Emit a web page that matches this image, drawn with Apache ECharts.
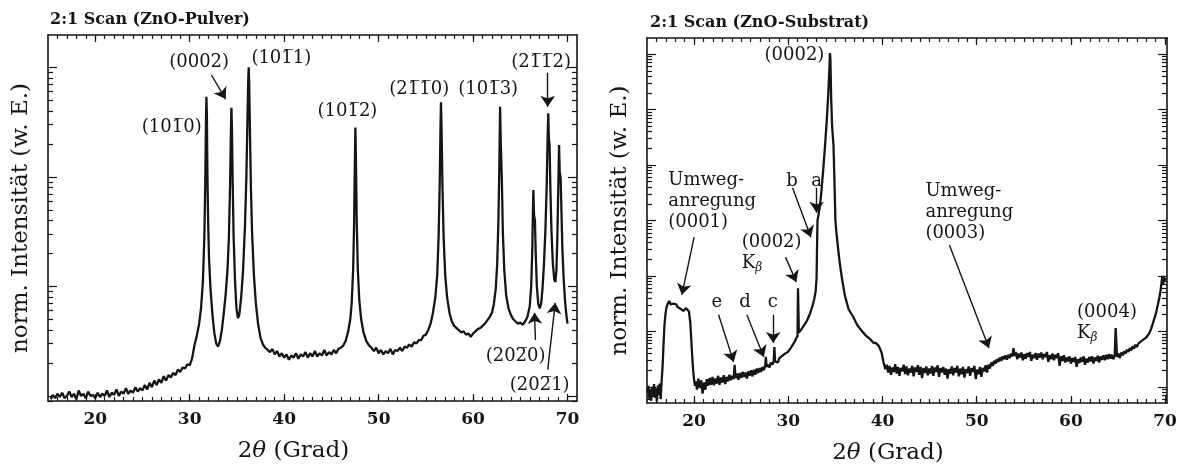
<!DOCTYPE html>
<html>
<head>
<meta charset="utf-8">
<title>2:1 Scan ZnO</title>
<script src="https://cdn.jsdelivr.net/npm/echarts@6/dist/echarts.min.js"></script>
<style>
  html, body { margin: 0; padding: 0; background: #fff; }
  #chart { width: 1181px; height: 472px; }
</style>
</head>
<body>
<div id="chart"></div>
<script>
  // Messwerte: [2theta (Grad), log10 der norm. Intensitaet]
  var pulverScan = [
    [15.3,-0.03],[15.5,0.01],[15.75,-0.02],[16.0,0.02],[16.25,-0.01],[16.5,0.03],[16.75,-0.02],[17.0,0.0],
    [17.25,0.04],[17.5,-0.01],[17.75,0.02],[18.0,-0.03],[18.25,0.05],[18.5,0.0],[18.75,0.02],[19.0,-0.02],
    [19.25,0.04],[19.5,0.0],[19.75,0.01],[20.0,-0.02],[20.25,0.03],[20.5,-0.01],[20.75,0.02],[21.0,0.0],
    [21.25,0.05],[21.5,-0.01],[21.75,0.03],[22.0,0.01],[22.25,0.06],[22.5,0.0],[22.75,0.04],[23.0,0.02],
    [23.25,0.07],[23.5,0.02],[23.75,0.05],[24.0,0.03],[24.25,0.08],[24.5,0.04],[24.75,0.07],[25.0,0.05],
    [25.25,0.10],[25.5,0.06],[25.75,0.12],[26.0,0.08],[26.25,0.14],[26.5,0.10],[26.75,0.15],[27.0,0.12],
    [27.25,0.18],[27.5,0.14],[27.75,0.19],[28.0,0.17],[28.25,0.21],[28.5,0.19],[28.75,0.24],[29.0,0.22],
    [29.25,0.26],[29.5,0.25],[29.75,0.29],[30.0,0.28],[30.25,0.34],[30.5,0.46],[30.75,0.55],[31.0,0.66],
    [31.2,0.80],[31.4,1.05],[31.55,1.45],[31.65,1.95],[31.72,2.5],[31.77,2.73],[31.82,2.55],[31.88,2.0],
    [31.95,1.6],[32.05,1.25],[32.2,0.98],[32.4,0.75],[32.6,0.58],[32.8,0.48],[33.0,0.45],[33.2,0.50],
    [33.4,0.60],[33.6,0.75],[33.8,0.92],[34.0,1.15],[34.15,1.45],[34.28,1.95],[34.37,2.45],[34.42,2.63],
    [34.47,2.45],[34.55,1.95],[34.65,1.45],[34.8,1.05],[34.95,0.80],[35.1,0.71],[35.25,0.74],[35.45,0.90],
    [35.65,1.15],[35.85,1.55],[36.0,2.0],[36.12,2.55],[36.2,2.9],[36.25,3.0],[36.3,2.85],[36.38,2.4],
    [36.48,1.9],[36.6,1.5],[36.8,1.1],[37.0,0.85],[37.25,0.65],[37.5,0.53],[37.75,0.47],[38.0,0.44],
    [38.25,0.42],[38.5,0.40],[38.75,0.43],[39.0,0.38],[39.25,0.41],[39.5,0.36],[39.75,0.39],[40.0,0.35],
    [40.25,0.38],[40.5,0.33],[40.75,0.37],[41.0,0.35],[41.25,0.39],[41.5,0.34],[41.75,0.38],[42.0,0.36],
    [42.25,0.40],[42.5,0.35],[42.75,0.39],[43.0,0.36],[43.25,0.41],[43.5,0.36],[43.75,0.39],[44.0,0.37],
    [44.25,0.42],[44.5,0.37],[44.75,0.40],[45.0,0.38],[45.25,0.42],[45.5,0.39],[45.75,0.43],[46.0,0.44],
    [46.25,0.46],[46.5,0.50],[46.75,0.58],[47.0,0.70],[47.15,0.85],[47.3,1.15],[47.4,1.55],[47.48,2.1],
    [47.54,2.45],[47.6,2.15],[47.68,1.6],[47.8,1.15],[47.95,0.88],[48.15,0.70],[48.4,0.58],[48.7,0.50],
    [49.0,0.46],[49.25,0.44],[49.5,0.41],[49.75,0.44],[50.0,0.39],[50.25,0.42],[50.5,0.38],[50.75,0.41],
    [51.0,0.39],[51.25,0.43],[51.5,0.38],[51.75,0.42],[52.0,0.41],[52.25,0.44],[52.5,0.41],[52.75,0.45],
    [53.0,0.44],[53.25,0.47],[53.5,0.45],[53.75,0.49],[54.0,0.48],[54.25,0.51],[54.5,0.51],[54.75,0.55],
    [55.0,0.56],[55.25,0.60],[55.5,0.66],[55.75,0.76],[56.0,0.90],[56.2,1.1],[56.35,1.45],[56.47,1.95],
    [56.55,2.45],[56.6,2.68],[56.66,2.45],[56.75,1.95],[56.88,1.45],[57.05,1.1],[57.25,0.90],[57.5,0.76],
    [57.75,0.68],[58.0,0.64],[58.25,0.62],[58.5,0.60],[58.75,0.58],[59.0,0.59],[59.25,0.56],[59.5,0.57],
    [59.75,0.54],[60.0,0.57],[60.25,0.59],[60.5,0.61],[60.75,0.62],[61.0,0.64],[61.25,0.66],[61.5,0.69],
    [61.75,0.72],[62.0,0.76],[62.2,0.84],[62.4,0.98],[62.55,1.2],[62.68,1.6],[62.78,2.1],[62.86,2.64],
    [62.92,2.35],[62.98,2.36],[63.05,1.95],[63.15,1.5],[63.3,1.15],[63.5,0.92],[63.75,0.80],[64.0,0.74],
    [64.25,0.70],[64.5,0.68],[64.75,0.66],[65.0,0.67],[65.25,0.65],[65.5,0.68],[65.75,0.72],[66.0,0.82],
    [66.15,1.0],[66.27,1.35],[66.35,1.75],[66.38,1.88],[66.45,1.65],[66.55,1.6],[66.63,1.3],[66.75,1.0],
    [66.9,0.84],[67.05,0.80],[67.2,0.84],[67.35,0.98],[67.5,1.2],[67.65,1.5],[67.8,1.95],[67.9,2.4],
    [67.96,2.58],[68.02,2.35],[68.1,2.29],[68.18,1.9],[68.3,1.5],[68.45,1.2],[68.6,1.06],[68.72,1.04],
    [68.82,1.15],[68.92,1.45],[69.02,1.9],[69.1,2.29],[69.17,2.05],[69.27,1.99],[69.35,1.7],[69.45,1.35],
    [69.6,1.05],[69.75,0.85],[69.9,0.72],[70.0,0.66]
  ];

  var substratScan = [
    [15.05,-0.1],[15.15,0.02],[15.25,-0.22],[15.35,-0.05],[15.45,-0.25],[15.55,0.0],[15.65,-0.18],[15.75,0.05],
    [15.85,-0.2],[15.95,-0.02],[16.05,-0.26],[16.15,0.03],[16.25,-0.15],[16.35,0.06],[16.45,-0.22],[16.55,0.1],
    [16.65,0.35],[16.75,0.75],[16.85,1.1],[16.95,1.3],[17.05,1.42],[17.2,1.5],[17.35,1.55],[17.5,1.49],
    [17.65,1.46],[17.8,1.50],[17.95,1.47],[18.1,1.49],[18.25,1.44],[18.4,1.45],[18.55,1.41],[18.7,1.40],
    [18.85,1.37],[19.0,1.39],[19.15,1.42],[19.3,1.44],[19.45,1.36],[19.6,1.15],[19.7,0.85],[19.8,0.55],
    [19.9,0.3],[20.0,0.12],[20.1,0.02],[20.2,0.10],[20.3,-0.05],[20.45,0.15],[20.6,-0.02],[20.75,0.12],
    [20.9,-0.12],[21.05,0.08],[21.2,-0.05],[21.35,0.14],[21.5,0.02],[21.65,0.16],[21.8,0.04],[21.95,0.18],
    [22.1,0.03],[22.25,0.15],[22.4,0.06],[22.55,0.20],[22.7,0.04],[22.85,0.17],[23.0,0.08],[23.15,0.21],
    [23.3,0.05],[23.45,0.18],[23.6,0.10],[23.75,0.22],[23.9,0.12],[24.05,0.20],[24.2,0.14],[24.3,0.40],
    [24.4,0.16],[24.55,0.24],[24.7,0.13],[24.85,0.25],[25.0,0.16],[25.15,0.27],[25.3,0.18],[25.45,0.26],
    [25.6,0.15],[25.75,0.28],[25.9,0.20],[26.05,0.30],[26.2,0.19],[26.35,0.31],[26.5,0.22],[26.65,0.33],
    [26.8,0.25],[26.95,0.34],[27.1,0.27],[27.25,0.36],[27.4,0.30],[27.55,0.38],[27.62,0.54],[27.7,0.36],
    [27.85,0.40],[28.0,0.35],[28.15,0.44],[28.3,0.40],[28.45,0.46],[28.52,0.72],[28.6,0.46],[28.75,0.48],
    [28.9,0.44],[29.05,0.52],[29.2,0.49],[29.35,0.56],[29.5,0.53],[29.65,0.60],[29.8,0.58],[29.95,0.63],
    [30.1,0.64],[30.25,0.70],[30.4,0.72],[30.55,0.78],[30.7,0.82],[30.85,0.88],[30.98,0.92],[31.03,1.78],
    [31.08,1.78],[31.12,0.98],[31.25,1.0],[31.4,1.04],[31.55,1.08],[31.7,1.12],[31.85,1.16],[32.0,1.2],
    [32.15,1.26],[32.3,1.32],[32.45,1.40],[32.6,1.48],[32.75,1.58],[32.9,1.72],[33.0,1.95],[33.05,2.5],
    [33.1,3.0],[33.2,3.1],[33.35,3.25],[33.5,3.5],[33.7,3.9],[33.9,4.35],[34.1,4.85],[34.25,5.3],
    [34.35,5.7],[34.42,6.02],[34.47,5.9],[34.55,5.2],[34.65,4.7],[34.8,4.35],[34.9,3.7],[35.0,3.0],
    [35.1,2.8],[35.25,2.55],[35.45,2.25],[35.7,1.95],[36.0,1.65],[36.4,1.4],[36.9,1.26],[37.3,1.12],
    [37.7,1.03],[38.2,0.93],[38.7,0.86],[39.0,0.80],[39.3,0.79],[39.6,0.74],[39.9,0.62],[40.1,0.45],
    [40.3,0.32],[40.45,0.40],[40.6,0.26],[40.75,0.38],[40.9,0.22],[41.05,0.35],[41.2,0.27],[41.35,0.41],
    [41.5,0.24],[41.65,0.36],[41.8,0.20],[41.95,0.34],[42.1,0.28],[42.25,0.40],[42.4,0.23],[42.55,0.37],
    [42.7,0.21],[42.85,0.33],[43.0,0.26],[43.15,0.38],[43.3,0.19],[43.45,0.35],[43.6,0.27],[43.75,0.39],
    [43.9,0.22],[44.05,0.36],[44.2,0.16],[44.35,0.34],[44.5,0.25],[44.65,0.37],[44.8,0.21],[44.95,0.33],
    [45.1,0.24],[45.25,0.38],[45.4,0.20],[45.55,0.35],[45.7,0.27],[45.85,0.39],[46.0,0.18],[46.15,0.34],
    [46.3,0.26],[46.45,0.36],[46.6,0.22],[46.75,0.33],[46.9,0.15],[47.05,0.32],[47.2,0.24],[47.35,0.37],
    [47.5,0.21],[47.65,0.34],[47.8,0.26],[47.95,0.38],[48.1,0.19],[48.25,0.33],[48.4,0.23],[48.55,0.36],
    [48.7,0.17],[48.85,0.32],[49.0,0.25],[49.15,0.37],[49.3,0.20],[49.45,0.34],[49.6,0.27],[49.75,0.38],
    [49.9,0.14],[50.05,0.31],[50.2,0.23],[50.35,0.36],[50.5,0.18],[50.65,0.34],[50.8,0.28],[50.95,0.39],
    [51.1,0.26],[51.25,0.40],[51.4,0.33],[51.55,0.44],[51.7,0.38],[51.85,0.47],[52.0,0.42],[52.15,0.50],
    [52.3,0.45],[52.45,0.53],[52.6,0.47],[52.75,0.55],[52.9,0.50],[53.05,0.57],[53.2,0.49],[53.35,0.58],
    [53.5,0.52],[53.65,0.60],[53.8,0.55],[53.9,0.70],[54.0,0.56],[54.15,0.63],[54.3,0.50],[54.45,0.60],
    [54.6,0.53],[54.75,0.62],[54.9,0.48],[55.05,0.59],[55.2,0.51],[55.35,0.61],[55.5,0.54],[55.65,0.63],
    [55.8,0.47],[55.95,0.58],[56.1,0.52],[56.25,0.61],[56.4,0.49],[56.55,0.60],[56.7,0.53],[56.85,0.62],
    [57.0,0.50],[57.15,0.59],[57.3,0.54],[57.45,0.63],[57.6,0.45],[57.75,0.57],[57.9,0.50],[58.05,0.60],
    [58.2,0.48],[58.35,0.58],[58.5,0.52],[58.65,0.61],[58.8,0.38],[58.95,0.55],[59.1,0.47],[59.25,0.57],
    [59.4,0.44],[59.55,0.53],[59.7,0.46],[59.85,0.55],[60.0,0.42],[60.15,0.52],[60.3,0.45],[60.45,0.54],
    [60.6,0.36],[60.75,0.50],[60.9,0.43],[61.05,0.53],[61.2,0.45],[61.35,0.55],[61.5,0.40],[61.65,0.51],
    [61.8,0.44],[61.95,0.54],[62.1,0.46],[62.25,0.55],[62.4,0.42],[62.55,0.53],[62.7,0.47],[62.85,0.56],
    [63.0,0.44],[63.15,0.55],[63.3,0.49],[63.45,0.57],[63.6,0.48],[63.75,0.58],[63.9,0.50],[64.05,0.59],
    [64.2,0.51],[64.35,0.58],[64.5,0.50],[64.65,0.56],[64.75,1.06],[64.82,1.06],[64.9,0.54],[65.05,0.60],
    [65.2,0.52],[65.35,0.62],[65.5,0.57],[65.65,0.64],[65.8,0.60],[65.95,0.67],[66.1,0.63],[66.25,0.70],
    [66.4,0.66],[66.55,0.73],[66.7,0.69],[66.85,0.76],[67.0,0.72],[67.15,0.78],[67.3,0.76],[67.45,0.82],
    [67.6,0.79],[67.75,0.86],[67.9,0.84],[68.05,0.90],[68.2,0.92],[68.35,0.98],[68.5,1.04],[68.65,1.12],
    [68.8,1.20],[68.95,1.28],[69.1,1.38],[69.25,1.50],[69.4,1.62],[69.5,1.72],[69.6,1.85],[69.7,2.0],
    [69.75,2.02],[69.8,1.85],[69.85,2.0],[69.9,1.9],[70.0,1.95]
  ];

  var xTickLabels = [20, 30, 40, 50, 60, 70];

  // Beschriftungen: [2theta, log10 I, Text, 'c' = zentriert | 'l' = linksbuendig]
  var pulverLabels = [
    [28.1, 2.45, '(101\u03050)', 'c'],
    [31.0, 3.05, '(0002)', 'c'],
    [39.7, 3.08, '(101\u03051)', 'c'],
    [46.7, 2.60, '(101\u03052)', 'c'],
    [54.3, 2.80, '(21\u03051\u03050)', 'c'],
    [61.6, 2.80, '(101\u03053)', 'c'],
    [67.2, 3.05, '(21\u03051\u03052)', 'c'],
    [64.5, 0.36, '(202\u03050)', 'c'],
    [67.05, 0.10, '(202\u03051)', 'c']
  ];
  // Pfeile: [von 2theta, von log I, nach 2theta, nach log I]
  var pulverArrows = [
    [32.3, 2.93, 33.8, 2.71],
    [67.9, 2.95, 67.9, 2.64],
    [66.6, 0.51, 66.5, 0.76],
    [67.9, 0.24, 68.7, 0.85]
  ];

  var substratLabels = [
    [30.65, 5.98, '(0002)', 'c'],
    [17.2, 3.35, 'Umweg-\nanregung\n(0001)', 'l'],
    [30.4, 3.70, 'b', 'c'],
    [33.0, 3.70, 'a', 'c'],
    [25.0, 2.41, '(0002)\nK{s|\u03b2}', 'l'],
    [22.4, 1.53, 'e', 'c'],
    [25.4, 1.53, 'd', 'c'],
    [28.35, 1.53, 'c', 'c'],
    [44.5, 3.15, 'Umweg-\nanregung\n(0003)', 'l'],
    [60.6, 1.15, '(0004)\nK{s|\u03b2}', 'l']
  ];
  var substratArrows = [
    [20.0, 2.70, 18.7, 1.66],
    [33.0, 3.59, 33.0, 3.14],
    [30.45, 3.59, 32.4, 2.70],
    [29.7, 2.34, 30.85, 1.89],
    [22.6, 1.30, 24.2, 0.45],
    [25.6, 1.30, 27.4, 0.54],
    [28.4, 1.30, 28.4, 0.79],
    [47.1, 2.56, 51.3, 0.70]
  ];

  var INK = '#151515';
  var SERIF = '"DejaVu Serif", "Liberation Serif", serif';

  function degreeTicks(lo, hi) {
    var v = [];
    for (var d = Math.floor(lo) + 1; d < hi; d++) v.push(d);
    return v;
  }
  function decadeTicks(lo, hi) {
    var v = [];
    for (var n = Math.ceil(lo); n <= hi; n++) v.push(n);
    return v;
  }
  function minorLogTicks(lo, hi) {
    var v = [];
    for (var n = -1; n <= 7; n++) {
      for (var k = 2; k <= 9; k++) {
        var t = n + Math.log10(k);
        if (t > lo && t < hi) v.push(t);
      }
    }
    return v;
  }
  function ticks(values, len) {
    return { show: true, inside: true, length: len, customValues: values, lineStyle: { color: INK, width: 1.2 } };
  }
  function line(show) {
    return { show: show, onZero: false, lineStyle: { color: INK, width: 1.6 } };
  }

  function xAxesFor(g, lo, hi) {
    var minor = degreeTicks(lo, hi);
    var base = { type: 'value', gridIndex: g, min: lo, max: hi, splitLine: { show: false }, axisLabel: { show: false } };
    return [
      Object.assign({}, base, {
        position: 'bottom', axisLine: line(true), axisTick: ticks(minor, 4),
        axisLabel: { show: true, customValues: xTickLabels, margin: 10, color: INK, fontFamily: SERIF, fontSize: 17, fontWeight: 'bold' },
        name: '2{i|\u03b8} (Grad)', nameLocation: 'middle', nameGap: 39,
        nameTextStyle: {
          color: INK, fontFamily: SERIF, fontSize: 23, padding: [0, 38, 0, 0],
          rich: { i: { fontStyle: 'italic', fontFamily: SERIF, fontSize: 23, color: INK } }
        }
      }),
      Object.assign({}, base, { position: 'bottom', axisLine: line(false), axisTick: ticks(xTickLabels, 7) }),
      Object.assign({}, base, { position: 'top', axisLine: line(true), axisTick: ticks(minor, 4) }),
      Object.assign({}, base, { position: 'top', axisLine: line(false), axisTick: ticks(xTickLabels, 7) })
    ];
  }

  function yAxesFor(g, lo, hi) {
    var minor = minorLogTicks(lo, hi), major = decadeTicks(lo, hi);
    var base = { type: 'value', gridIndex: g, min: lo, max: hi, splitLine: { show: false }, axisLabel: { show: false } };
    return [
      Object.assign({}, base, {
        position: 'left', axisLine: line(true), axisTick: ticks(minor, 5),
        name: 'norm. Intensit\u00e4t (w. E.)', nameLocation: 'middle', nameGap: 15,
        nameTextStyle: { color: INK, fontFamily: SERIF, fontSize: 23 }
      }),
      Object.assign({}, base, { position: 'left', axisLine: line(false), axisTick: ticks(major, 9) }),
      Object.assign({}, base, { position: 'right', axisLine: line(true), axisTick: ticks(minor, 5) }),
      Object.assign({}, base, { position: 'right', axisLine: line(false), axisTick: ticks(major, 9) })
    ];
  }

  function scanSeries(g, scan, labels, arrows) {
    return {
      type: 'line',
      xAxisIndex: g * 4,
      yAxisIndex: g * 4,
      data: scan,
      showSymbol: false,
      symbol: 'none',
      silent: true,
      lineStyle: { color: INK, width: 2.3 },
      markLine: {
        silent: true,
        animation: false,
        symbol: ['none', 'arrow'],
        symbolSize: 11,
        label: { show: false },
        emphasis: { disabled: true },
        lineStyle: { color: INK, width: 1.4, type: 'solid' },
        data: arrows.map(function (a) {
          return [{ coord: [a[0], a[1]] }, { coord: [a[2], a[3]] }];
        })
      },
      markPoint: {
        silent: true,
        animation: false,
        symbol: 'circle',
        symbolSize: 1,
        itemStyle: { color: 'rgba(0,0,0,0)' },
        data: labels.map(function (l) {
          return {
            coord: [l[0], l[1]],
            label: {
              show: true,
              formatter: l[2],
              position: l[3] === 'l' ? 'right' : 'inside',
              distance: 0,
              color: INK,
              fontFamily: SERIF,
              fontSize: 18,
              lineHeight: 21,
              rich: {
                s: { fontFamily: SERIF, fontSize: 12, fontStyle: 'italic', color: INK, padding: [8, 0, 0, 0] }
              }
            }
          };
        })
      }
    };
  }

  var chart = echarts.init(document.getElementById('chart'), null, { renderer: 'canvas' });
  var option = {
    backgroundColor: '#fff',
    animation: false,
    title: [
      { text: '2:1 Scan (ZnO-Pulver)', left: 45, top: 7, textStyle: { color: INK, fontFamily: SERIF, fontSize: 16, fontWeight: 'bold' } },
      { text: '2:1 Scan (ZnO-Substrat)', left: 645, top: 10, textStyle: { color: INK, fontFamily: SERIF, fontSize: 16, fontWeight: 'bold' } }
    ],
    grid: [
      { left: 48, top: 35, width: 529, height: 366, outerBoundsMode: 'none' },
      { left: 647, top: 38, width: 520, height: 365, outerBoundsMode: 'none' }
    ],
    xAxis: xAxesFor(0, 15, 71).concat(xAxesFor(1, 15, 70.2)),
    yAxis: yAxesFor(0, -0.046, 3.295).concat(yAxesFor(1, -0.29, 6.29)),
    series: [
      scanSeries(0, pulverScan, pulverLabels, pulverArrows),
      scanSeries(1, substratScan, substratLabels, substratArrows)
    ]
  };
  chart.setOption(option);
</script>
</body>
</html>
